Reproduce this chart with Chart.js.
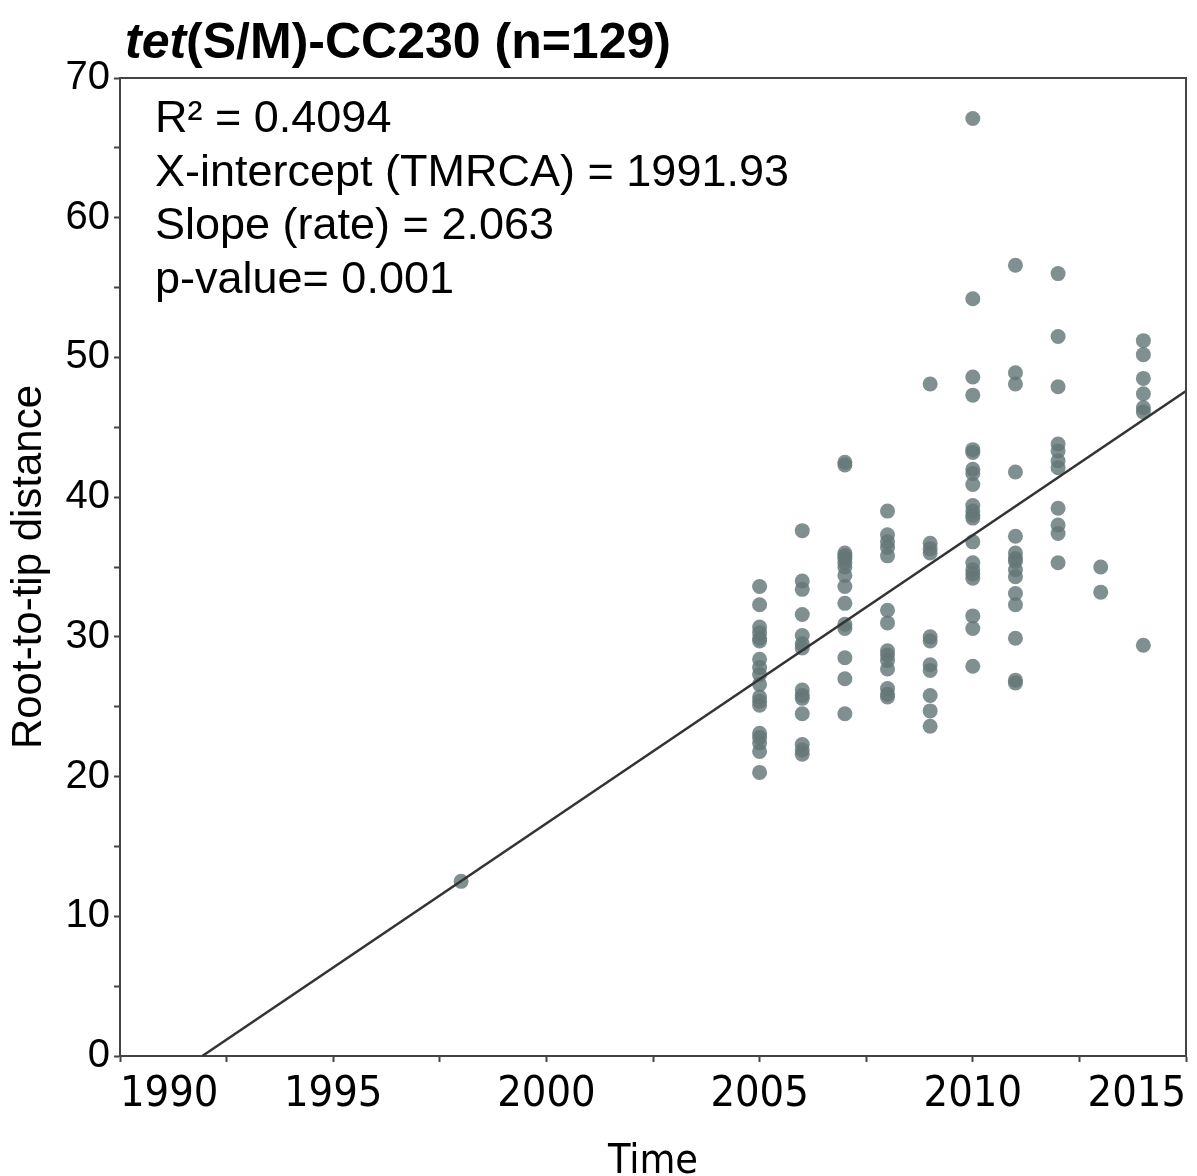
<!DOCTYPE html>
<html>
<head>
<meta charset="utf-8">
<script src="https://cdn.jsdelivr.net/npm/chart.js@4.4.1/dist/chart.umd.min.js"></script>
<style>
  body { margin: 0; background: #fff; }
  #wrap { width: 1197px; height: 1176px; }
</style>
</head>
<body>
<div id="wrap"><canvas id="myChart" width="1197" height="1176"></canvas></div>
<script>
const years = [1998, 2005, 2006, 2007, 2008, 2009, 2010, 2011, 2012, 2013, 2014];

const d1998 = [12.5];
const d2005 = [33.6, 32.3, 30.7, 30.3, 29.9, 29.7, 28.4, 27.8, 27.3, 26.6, 25.7, 25.4, 25.1, 23.1, 22.8, 22.4, 21.8, 20.3];
const d2006 = [37.6, 34.0, 33.4, 31.6, 30.1, 29.5, 29.2, 26.2, 25.8, 25.6, 24.5, 22.3, 21.9, 21.6];
const d2007 = [42.5, 42.3, 36.0, 35.8, 35.6, 35.3, 35.0, 34.4, 33.6, 32.4, 30.9, 30.6, 28.5, 27.0, 24.5];
const d2008 = [39.0, 37.3, 36.8, 36.4, 35.8, 31.9, 31.0, 29.0, 28.7, 28.3, 27.7, 26.3, 25.9, 25.7];
const d2009 = [48.1, 36.7, 36.3, 36.0, 30.0, 29.7, 28.0, 27.6, 25.8, 24.7, 23.6];
const d2010 = [67.1, 54.2, 48.6, 47.3, 43.4, 43.2, 42.0, 41.7, 40.9, 39.4, 39.0, 38.7, 38.5, 36.8, 35.3, 34.8, 34.5, 34.2, 31.5, 30.6, 27.9];
const d2011 = [56.6, 48.9, 48.1, 41.8, 37.2, 36.0, 35.6, 35.4, 34.8, 34.3, 33.1, 32.3, 29.9, 26.9, 26.7];
const d2012 = [56.0, 51.5, 47.9, 43.8, 43.3, 42.6, 42.1, 39.2, 38.0, 37.4, 35.3];
const d2013 = [35.0, 33.2];
const d2014 = [51.2, 50.2, 48.5, 47.4, 46.4, 46.1, 29.4];
const groups = [d1998, d2005, d2006, d2007, d2008, d2009, d2010, d2011, d2012, d2013, d2014];

// regression line as drawn: from the x-intercept to the right edge
const fitX = [1991.93, 2015];
const fitY = [0, 47.6];

const xTicks = [1990, 1995, 2000, 2005, 2010, 2015];
const yTicks = [0, 10, 20, 30, 40, 50, 60, 70];

const statLines = [
  "R\u00b2 = 0.4094",
  "X-intercept (TMRCA) = 1991.93",
  "Slope (rate) = 2.063",
  "p-value= 0.001",
];

const points = groups.flatMap((vals, i) => vals.map((v) => ({ x: years[i], y: v })));
const fitLine = fitX.map((x, i) => ({ x, y: fitY[i] }));

const narrow = "'Liberation Sans Narrow', 'DejaVu Sans Condensed', sans-serif";
const axisColor = "#444";

const framePlugin = {
  id: "frame",
  afterDraw(chart) {
    const { ctx, chartArea: a } = chart;
    ctx.save();
    ctx.strokeStyle = axisColor;
    ctx.lineWidth = 2;
    ctx.beginPath();
    ctx.moveTo(a.left, a.top);
    ctx.lineTo(a.right, a.top);
    ctx.lineTo(a.right, a.bottom);
    ctx.stroke();

    ctx.fillStyle = "#000";
    ctx.textBaseline = "alphabetic";
    ctx.textAlign = "left";
    ctx.font = "italic bold 50px 'Liberation Sans'";
    ctx.fillText("tet", 125, 58);
    const w = ctx.measureText("tet").width;
    ctx.font = "bold 50px 'Liberation Sans'";
    ctx.fillText("(S/M)-CC230 (n=129)", 125 + w, 58);

    ctx.font = "45px 'Liberation Sans'";
    statLines.forEach((t, i) => ctx.fillText(t, a.left + 35, 132 + i * 53.7));
    ctx.restore();
  },
};

const ctx = document.getElementById("myChart").getContext("2d");
const myChart = new Chart(ctx, {
  type: "scatter",
  data: {
    datasets: [
      {
        type: "line",
        data: fitLine,
        borderColor: "#333",
        borderWidth: 2.5,
        pointRadius: 0,
        fill: false,
        order: 0,
      },
      {
        data: points,
        backgroundColor: "rgba(100, 118, 118, 0.82)",
        borderWidth: 0,
        pointRadius: 7.5,
        pointHoverRadius: 7.5,
        order: 1,
      },
    ],
  },
  options: {
    responsive: false,
    animation: false,
    events: [],
    layout: { padding: { top: 78, right: 11, left: 0, bottom: 0 } },
    plugins: {
      legend: { display: false },
      tooltip: { enabled: false },
    },
    scales: {
      x: {
        type: "linear",
        min: 1990,
        max: 2015,
        afterFit: (s) => {
          s.height = 120;
          s.paddingLeft = 0;
          s.paddingRight = 0;
        },
        ticks: {
          stepSize: 2.5,
          autoSkip: false,
          maxRotation: 0,
          align: "inner",
          padding: 7,
          color: "#000",
          font: { family: narrow, size: 43, lineHeight: 1.2 },
          callback: (v) => (xTicks.includes(v) ? String(v) : ""),
        },
        grid: { drawOnChartArea: false, drawTicks: true, tickLength: 6, color: axisColor, tickWidth: 2 },
        border: { display: true, color: axisColor, width: 2 },
        title: {
          display: true,
          text: "Time",
          color: "#000",
          font: { family: narrow, size: 41, lineHeight: 0.66 },
          padding: { top: 0, bottom: 0 },
        },
      },
      y: {
        min: 0,
        max: 70,
        afterFit: (s) => {
          s.width = 120;
        },
        ticks: {
          stepSize: 5,
          autoSkip: false,
          padding: 4,
          color: "#000",
          font: { family: "'Liberation Sans', sans-serif", size: 40 },
          callback: (v) => (yTicks.includes(v) ? String(v) : ""),
        },
        grid: { drawOnChartArea: false, drawTicks: true, tickLength: 6, color: axisColor, tickWidth: 2 },
        border: { display: true, color: axisColor, width: 2 },
        title: {
          display: true,
          text: "Root-to-tip distance",
          color: "#000",
          font: { family: "'Liberation Sans', sans-serif", size: 42, lineHeight: 1.2 },
          padding: { top: 4, bottom: 0 },
        },
      },
    },
  },
  plugins: [framePlugin],
});
</script>
</body>
</html>
